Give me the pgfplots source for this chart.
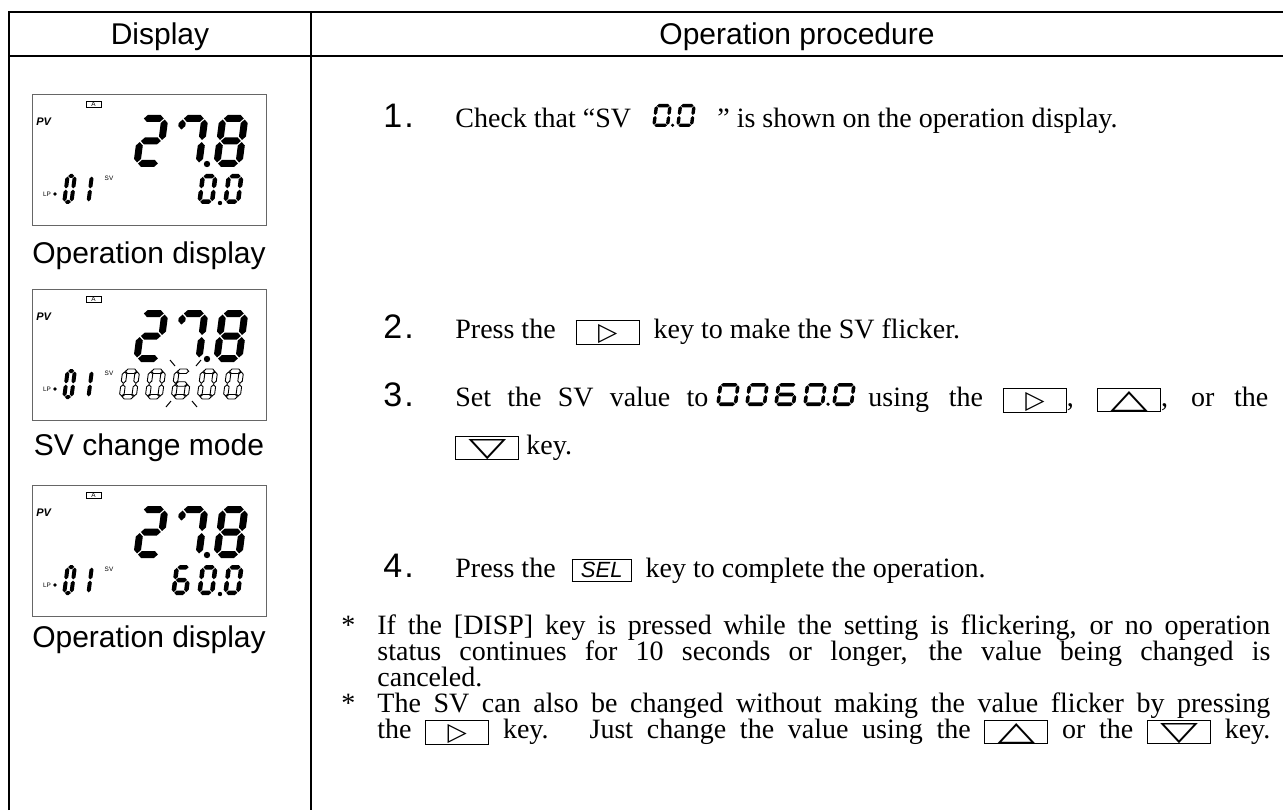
\documentclass[border=0pt]{standalone}
\usepackage{fontspec}
\setmainfont{Liberation Serif}
\setsansfont{Liberation Sans}
\newfontfamily\dejavu{DejaVu Sans}
\usepackage{graphicx}
\usepackage{pgfplots}
\pgfplotsset{compat=1.18}

\newcommand\serf{\fontsize{14}{16}\selectfont\rmfamily}
\newcommand\sanf{\fontsize{15}{18}\selectfont\sffamily}
\newcommand\numf{\fontsize{17}{20}\selectfont\sffamily}
\newcommand\tinyf{\fontsize{3.2}{3.2}\selectfont\sffamily}
\tikzset{tx/.style={anchor=base west, inner sep=0pt, font=\serf},
  num/.style={anchor=base west, inner sep=0pt, font=\numf}}

% ---- seven-segment drawing (canvas pt units, shifted/slanted by a scope)
\tikzset{seg/.style={fill=black}}
\newcommand\hseg[4]{\path[seg] ({(#1)*1pt},{(#3)*1pt}) -- ({(#1)*1pt+(#4)*0.5pt},{(#3)*1pt+(#4)*0.5pt}) -- ({(#2)*1pt-(#4)*0.5pt},{(#3)*1pt+(#4)*0.5pt}) -- ({(#2)*1pt},{(#3)*1pt}) -- ({(#2)*1pt-(#4)*0.5pt},{(#3)*1pt-(#4)*0.5pt}) -- ({(#1)*1pt+(#4)*0.5pt},{(#3)*1pt-(#4)*0.5pt}) -- cycle;}
\newcommand\vseg[4]{\path[seg] ({(#1)*1pt},{(#2)*1pt}) -- ({(#1)*1pt+(#4)*0.5pt},{(#2)*1pt+(#4)*0.5pt}) -- ({(#1)*1pt+(#4)*0.5pt},{(#3)*1pt-(#4)*0.5pt}) -- ({(#1)*1pt},{(#3)*1pt}) -- ({(#1)*1pt-(#4)*0.5pt},{(#3)*1pt-(#4)*0.5pt}) -- ({(#1)*1pt-(#4)*0.5pt},{(#2)*1pt+(#4)*0.5pt}) -- cycle;}
\newcommand\sA[3]{\hseg{0.65*(#3)}{(#1)-0.65*(#3)}{(#2)-0.5*(#3)}{#3}}
\newcommand\sG[3]{\hseg{0.65*(#3)}{(#1)-0.65*(#3)}{0.5*(#2)}{#3}}
\newcommand\sD[3]{\hseg{0.65*(#3)}{(#1)-0.65*(#3)}{0.5*(#3)}{#3}}
\newcommand\sB[3]{\vseg{(#1)-0.5*(#3)}{0.5*(#2)+0.15*(#3)}{(#2)-0.65*(#3)}{#3}}
\newcommand\sC[3]{\vseg{(#1)-0.5*(#3)}{0.65*(#3)}{0.5*(#2)-0.15*(#3)}{#3}}
\newcommand\sE[3]{\vseg{0.5*(#3)}{0.65*(#3)}{0.5*(#2)-0.15*(#3)}{#3}}
\newcommand\sF[3]{\vseg{0.5*(#3)}{0.5*(#2)+0.15*(#3)}{(#2)-0.65*(#3)}{#3}}
\newcommand\sFs[3]{\vseg{0.5*(#3)}{0.72*(#2)}{(#2)-0.65*(#3)}{#3}}
\newcommand\DGzero[3]{\sA{#1}{#2}{#3}\sB{#1}{#2}{#3}\sC{#1}{#2}{#3}\sD{#1}{#2}{#3}\sE{#1}{#2}{#3}\sF{#1}{#2}{#3}}
\newcommand\DGone[3]{\sB{#1}{#2}{#3}\sC{#1}{#2}{#3}}
\newcommand\DGtwo[3]{\sA{#1}{#2}{#3}\sB{#1}{#2}{#3}\sG{#1}{#2}{#3}\sE{#1}{#2}{#3}\sD{#1}{#2}{#3}}
\newcommand\DGsix[3]{\sA{#1}{#2}{#3}\sF{#1}{#2}{#3}\sG{#1}{#2}{#3}\sE{#1}{#2}{#3}\sD{#1}{#2}{#3}\sC{#1}{#2}{#3}}
\newcommand\DGseven[3]{\sA{#1}{#2}{#3}\sB{#1}{#2}{#3}\sC{#1}{#2}{#3}\sFs{#1}{#2}{#3}}
\newcommand\DGeight[3]{\sA{#1}{#2}{#3}\sB{#1}{#2}{#3}\sC{#1}{#2}{#3}\sD{#1}{#2}{#3}\sE{#1}{#2}{#3}\sF{#1}{#2}{#3}\sG{#1}{#2}{#3}}
% #1 reference point name, #2 #3 offset (pt), #4 width, #5 height, #6 thickness (pt), #7 digit name, #8 slant
\newcommand\digit[8]{\begin{scope}[shift={([shift={(#2pt,#3pt)}]#1)},xslant=#8]\csname DG#7\endcsname{#4}{#5}{#6}\end{scope}}
\newcommand\sdot[4]{\fill ([shift={(#2pt,#3pt)}]#1) circle[radius=#4pt];}

% ---- LCD panel frame and labels, #1 = top y (px), #2 = coordinate name
\newcommand\LCD[2]{%
  \coordinate (#2) at (axis cs:32,#1);
  \draw[black!60,line width=0.5pt] (axis cs:32,#1) rectangle (axis cs:266,{#1+131});
  \draw[line width=0.4pt] (axis cs:86,{#1+7}) rectangle (axis cs:101,{#1+13});
  \node[font=\tinyf,inner sep=0pt] at (axis cs:93.5,{#1+10}) {A};
  \node[font=\fontsize{5.5}{5.5}\selectfont\sffamily\bfseries\itshape,inner sep=0pt,anchor=west] at (axis cs:36,{#1+28}) {PV};
  \node[font=\tinyf,inner sep=0pt] at (axis cs:47,{#1+100}) {LP};
  \fill (axis cs:55,{#1+100}) circle[radius=0.9pt];
  \node[font=\tinyf,inner sep=0pt] at (axis cs:109,{#1+84}) {SV};
}
% LCD digits drawn after the axis, relative to the named corner
\newcommand\LCDdigits[1]{%
  \digit{#1}{50.5}{-36.5}{14.5}{26}{3.5}{two}{0.13}
  \digit{#1}{70.5}{-36.5}{14.5}{26}{3.5}{seven}{0.13}
  \sdot{#1}{87.5}{-35}{1.6}
  \digit{#1}{90.5}{-36.5}{14.5}{26}{3.5}{eight}{0.13}
  \digit{#1}{15}{-55}{5.6}{15}{2}{zero}{0.13}
  \digit{#1}{23.5}{-55}{5.6}{15}{2}{one}{0.13}
}

% ---- key boxes
\newcommand\keybox[2]{\raisebox{-2.2pt}{\setlength{\fboxrule}{0.5pt}\setlength{\fboxsep}{0pt}\fbox{\makebox[#1]{\rule{0pt}{10.8pt}#2}}}}
\newcommand\triR{\keybox{31pt}{\raisebox{0.9pt}{\dejavu\fontsize{12.5}{12.5}\selectfont ▷}}}
\newcommand\triU{\keybox{31pt}{\raisebox{1.2pt}{\resizebox{19pt}{8.5pt}{\dejavu △}}}}
\newcommand\triD{\keybox{31pt}{\raisebox{1.2pt}{\resizebox{19pt}{8.5pt}{\dejavu ▽}}}}
\newcommand\keySEL{\keybox{29pt}{\raisebox{2pt}{\sffamily\itshape\fontsize{11}{11}\selectfont SEL}}}

\begin{document}
\begin{tikzpicture}
\begin{axis}[scale only axis, width=641.5pt, height=405pt,
  xmin=0, xmax=1283, ymin=0, ymax=810, y dir=reverse,
  axis lines=none, clip=false]

% table frame
\addplot[black, line width=1.1pt] coordinates {(9,810) (9,12) (1283,12)};
\addplot[black, line width=1.1pt] coordinates {(9,56) (1283,56)};
\addplot[black, line width=1.1pt] coordinates {(311,12) (311,810)};

% headers
\node[anchor=base, inner sep=0pt, font=\sanf] at (axis cs:160,44) {Display};
\node[anchor=base, inner sep=0pt, font=\sanf] at (axis cs:797,44) {Operation procedure};

% LCD frames and captions
\LCD{94}{L1}
\LCD{289}{L2}
\LCD{485}{L3}
\node[anchor=base, inner sep=0pt, font=\sanf] at (axis cs:149,263) {Operation display};
\node[anchor=base, inner sep=0pt, font=\sanf] at (axis cs:149,455) {SV change mode};
\node[anchor=base, inner sep=0pt, font=\sanf] at (axis cs:149,647) {Operation display};
% flicker marks around the changing digit
\draw[line width=0.5pt] (axis cs:175,366) -- (axis cs:170,360);
\draw[line width=0.5pt] (axis cs:196,366) -- (axis cs:201,360);
\draw[line width=0.5pt] (axis cs:171,401) -- (axis cs:166,407);
\draw[line width=0.5pt] (axis cs:192,401) -- (axis cs:197,407);

% step 1
\node[num] at (axis cs:383,127) {1\kern1pt.};
\node[tx] at (axis cs:455,127) {Check that “SV};
\coordinate (d1) at (axis cs:652,127);
\node[tx] at (axis cs:717,127) {” is shown on the operation display.};

% step 2
\node[num] at (axis cs:383,338) {2\kern1pt.};
\node[tx] at (axis cs:455,338) {Press the\hspace{10pt}\triR\hspace{7pt}key to make the SV flicker.};

% step 3
\node[num] at (axis cs:383,406) {3\kern1pt.};
\node[tx] at (axis cs:455,406) {\makebox[126.5pt][s]{Set the SV value to}};
\coordinate (d3) at (axis cs:716,406);
\node[tx] at (axis cs:868,406) {\makebox[200pt][s]{using the \triR, \triU, or the}};
\node[tx] at (axis cs:455,454) {\triD\ key.};

% step 4
\node[num] at (axis cs:383,577) {4\kern1pt.};
\node[tx] at (axis cs:455,577) {Press the\hspace{8pt}\keySEL\hspace{7pt}key to complete the operation.};

% notes
\node[tx] at (axis cs:341,634) {*};
\node[tx] at (axis cs:377,634) {\makebox[446.5pt][s]{If the [DISP] key is pressed while the setting is flickering, or no operation}};
\node[tx] at (axis cs:377,660) {\makebox[446.5pt][s]{status continues for 10 seconds or longer, the value being changed is}};
\node[tx] at (axis cs:377,686) {canceled.};
\node[tx] at (axis cs:341,712) {*};
\node[tx] at (axis cs:377,712) {\makebox[446.5pt][s]{The SV can also be changed without making the value flicker by pressing}};
\node[tx] at (axis cs:377,738) {\makebox[446.5pt][s]{the \triR\ key.\ \ \ Just change the value using the \triU\ or the \triD\ key.}};
\end{axis}

% ---- seven-segment digits (relative to coordinates named in the axis)
\LCDdigits{L1}
\digit{L1}{82.5}{-55}{8.5}{15}{2.25}{zero}{0.13}
\sdot{L1}{94}{-54.5}{1.1}
\digit{L1}{95.5}{-55}{8.5}{15}{2.25}{zero}{0.13}

\LCDdigits{L2}
\begin{scope}[seg/.style={draw=black, line width=0.45pt}]
\digit{L2}{43.5}{-55}{8.5}{15}{2.25}{zero}{0.13}
\digit{L2}{56.5}{-55}{8.5}{15}{2.25}{zero}{0.13}
\digit{L2}{69.5}{-55}{8.5}{15}{2.25}{six}{0.13}
\digit{L2}{82.5}{-55}{8.5}{15}{2.25}{zero}{0.13}
\digit{L2}{95.5}{-55}{8.5}{15}{2.25}{zero}{0.13}
\end{scope}

\LCDdigits{L3}
\digit{L3}{69.5}{-55}{8.5}{15}{2.25}{six}{0.13}
\digit{L3}{82.5}{-55}{8.5}{15}{2.25}{zero}{0.13}
\sdot{L3}{94}{-54.5}{1.1}
\digit{L3}{95.5}{-55}{8.5}{15}{2.25}{zero}{0.13}

% inline digits, step 1: 0.0
\digit{d1}{0}{0}{8.5}{11.5}{1.7}{zero}{0.13}
\sdot{d1}{10.3}{0.85}{0.85}
\digit{d1}{12}{0}{8.5}{11.5}{1.7}{zero}{0.13}
% inline digits, step 3: 0060.0
\digit{d3}{0}{0}{10.5}{11.5}{1.8}{zero}{0.13}
\digit{d3}{14.5}{0}{10.5}{11.5}{1.8}{zero}{0.13}
\digit{d3}{29}{0}{10.5}{11.5}{1.8}{six}{0.13}
\digit{d3}{43.5}{0}{10.5}{11.5}{1.8}{zero}{0.13}
\sdot{d3}{56}{0.9}{0.9}
\digit{d3}{58}{0}{10.5}{11.5}{1.8}{zero}{0.13}

\pgfresetboundingbox
\path[use as bounding box] (0,0) rectangle (641.5pt,405pt);
\end{tikzpicture}
\end{document}
